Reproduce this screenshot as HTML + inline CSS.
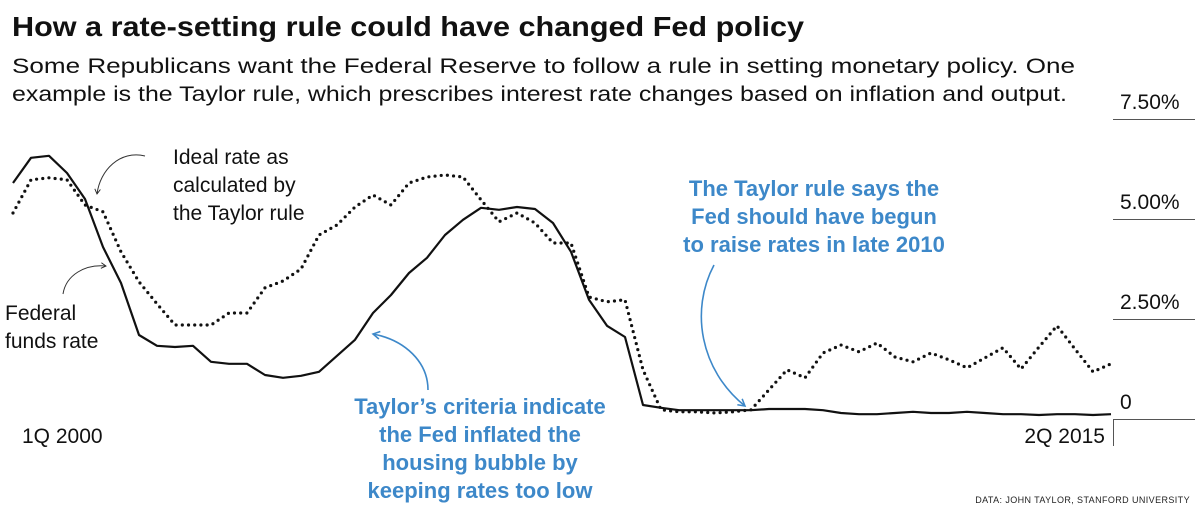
<!DOCTYPE html>
<html><head><meta charset="utf-8"><style>
html,body{margin:0;padding:0;background:#fff;}
svg{display:block;font-family:"Liberation Sans",Arial,sans-serif;}
</style></head><body>
<svg id="chart" width="1200" height="520" viewBox="0 0 1200 520" xmlns="http://www.w3.org/2000/svg">
<defs>
<marker id="ahB" viewBox="0 0 10 10" refX="8" refY="5" markerWidth="7" markerHeight="7" orient="auto"><path d="M1,1 L8,5 L1,9" fill="none" stroke="#222" stroke-width="1.3"/></marker>
<marker id="ahBl" viewBox="0 0 10 10" refX="8" refY="5" markerWidth="6" markerHeight="6" orient="auto"><path d="M1,1 L8,5 L1,9" fill="none" stroke="#3d88c9" stroke-width="1.6"/></marker>
</defs>
<text x="12" y="36" font-size="28" font-weight="bold" fill="#111" textLength="792" lengthAdjust="spacingAndGlyphs">How a rate-setting rule could have changed Fed policy</text>
<text x="12" y="73" font-size="21" fill="#111" textLength="1063" lengthAdjust="spacingAndGlyphs">Some Republicans want the Federal Reserve to follow a rule in setting monetary policy. One</text>
<text x="12" y="101" font-size="21" fill="#111" textLength="1055" lengthAdjust="spacingAndGlyphs">example is the Taylor rule, which prescribes interest rate changes based on inflation and output.</text>
<g id="yaxis"></g>
<line x1="1113.5" y1="419" x2="1113.5" y2="446" stroke="#555" stroke-width="1"/>
<g id="series"></g>
<text x="22" y="443" font-size="21" fill="#111">1Q 2000</text>
<text x="1105" y="443" font-size="21" fill="#111" text-anchor="end">2Q 2015</text>
<g font-size="21" fill="#111">
<text x="173" y="164">Ideal rate as</text><text x="173" y="192">calculated by</text><text x="173" y="220">the Taylor rule</text>
</g>
<path d="M145,156 C120,150 100,170 97,194" fill="none" stroke="#333" stroke-width="1" marker-end="url(#ahB)"/>
<g font-size="21" fill="#111">
<text x="5" y="320">Federal</text><text x="5" y="348">funds rate</text>
</g>
<path d="M63,294 C66,275 85,264 106,266" fill="none" stroke="#333" stroke-width="1" marker-end="url(#ahB)"/>
<g font-size="22" font-weight="bold" fill="#3d88c9" text-anchor="middle">
<text x="480" y="414">Taylor’s criteria indicate</text><text x="480" y="442">the Fed inflated the</text><text x="480" y="470">housing bubble by</text><text x="480" y="498">keeping rates too low</text>
</g>
<path d="M428,390 C428,362 405,340 373,334" fill="none" stroke="#3d88c9" stroke-width="1.6" marker-end="url(#ahBl)"/>
<g font-size="22" font-weight="bold" fill="#3d88c9" text-anchor="middle">
<text x="814" y="196">The Taylor rule says the</text><text x="814" y="224">Fed should have begun</text><text x="814" y="252">to raise rates in late 2010</text>
</g>
<path d="M714,265 C690,310 700,370 745,406" fill="none" stroke="#3d88c9" stroke-width="1.6" marker-end="url(#ahBl)"/>
<text x="1190" y="503" font-size="9" fill="#222" text-anchor="end" letter-spacing="0.4">DATA: JOHN TAYLOR, STANFORD UNIVERSITY</text>
</svg>
<script>
const quarterCount = 62;
const fedFunds = [5.9,6.53,6.58,6.15,5.5,4.3,3.4,2.1,1.83,1.8,1.83,1.43,1.38,1.38,1.1,1.03,1.08,1.18,1.58,1.98,2.65,3.1,3.65,4.03,4.6,4.98,5.28,5.23,5.3,5.25,4.9,4.18,2.98,2.33,2.05,0.35,0.28,0.22,0.22,0.22,0.22,0.22,0.25,0.25,0.25,0.22,0.15,0.12,0.12,0.15,0.18,0.15,0.15,0.18,0.15,0.12,0.12,0.1,0.12,0.12,0.1,0.12];
const taylorRule = [5.15,5.98,6.03,5.98,5.35,5.18,4.18,3.43,2.88,2.35,2.35,2.35,2.65,2.65,3.28,3.45,3.75,4.6,4.85,5.3,5.6,5.35,5.9,6.05,6.1,6.05,5.48,4.93,5.15,4.9,4.4,4.4,3.05,2.93,2.98,1.23,0.23,0.18,0.18,0.15,0.18,0.23,0.73,1.23,1.03,1.65,1.85,1.68,1.9,1.55,1.43,1.65,1.48,1.28,1.53,1.78,1.25,1.8,2.33,1.75,1.18,1.38];
const yTicks = [0,2.5,5,7.5];
const yTickLabels = ["0","2.50%","5.00%","7.50%"];
const NS="http://www.w3.org/2000/svg";
function xScale(i){return 13 + i*(1111-13)/(quarterCount-1);}
function yScale(v){return 419 - v*40;}
const yaxis=document.getElementById('yaxis');
yTicks.forEach((t,k)=>{
  const l=document.createElementNS(NS,'line');
  
  
  l.setAttribute('x1',1113);l.setAttribute('x2',1195);
  l.setAttribute('y1',yScale(t)+0.5);l.setAttribute('y2',yScale(t)+0.5);
  l.setAttribute('stroke','#555');l.setAttribute('stroke-width','1');
  yaxis.appendChild(l);
  const tx=document.createElementNS(NS,'text');
  
  
  tx.setAttribute('x',1120);tx.setAttribute('y',yScale(t)-10);
  tx.setAttribute('font-size','21');tx.setAttribute('fill','#111');
  tx.textContent=yTickLabels[k];
  yaxis.appendChild(tx);
});
const series=document.getElementById('series');
function pts(arr){return arr.map((v,i)=>xScale(i).toFixed(1)+','+yScale(v).toFixed(1)).join(' ');}
const tp=document.createElementNS(NS,'polyline');


tp.setAttribute('points',pts(taylorRule));
tp.setAttribute('fill','none');tp.setAttribute('stroke','#111');tp.setAttribute('stroke-width','3.2');
tp.setAttribute('stroke-linecap','round');tp.setAttribute('stroke-dasharray','0 6.2');
series.appendChild(tp);
const fp=document.createElementNS(NS,'polyline');


fp.setAttribute('points',pts(fedFunds));
fp.setAttribute('fill','none');fp.setAttribute('stroke','#111');fp.setAttribute('stroke-width','2.2');
fp.setAttribute('stroke-linejoin','round');
series.appendChild(fp);
</script>
</body></html>
